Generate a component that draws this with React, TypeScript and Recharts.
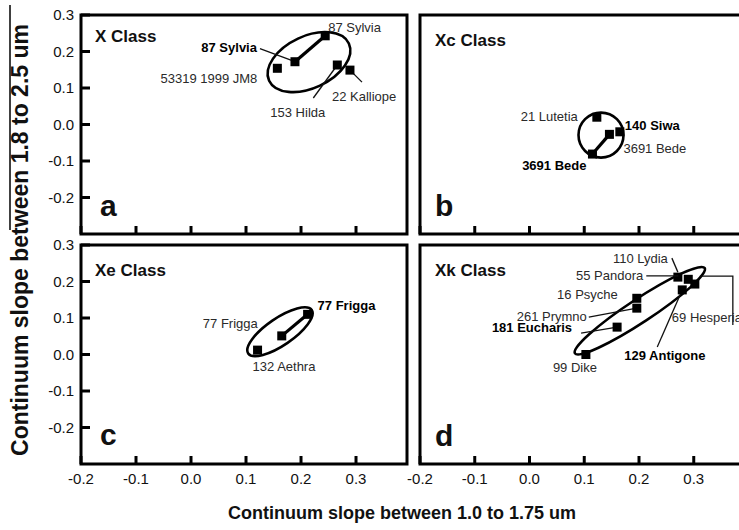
import React from "react";
import { ScatterChart, Scatter, XAxis, YAxis, ReferenceArea, ReferenceLine } from "recharts";

const FONT = "'Liberation Sans', Arial, Helvetica, sans-serif";

// Tick values shared by all four panels
const X_TICKS = [-0.2, -0.1, 0.0, 0.1, 0.2, 0.3];
const Y_TICKS = [-0.2, -0.1, 0.0, 0.1, 0.2, 0.3];

type Pt = { name: string; set: "new" | "ref"; x: number; y: number };

// x = continuum slope 1.0–1.75 um, y = continuum slope 1.8–2.5 um
const xClass: Pt[] = [
  { name: "53319 1999 JM8", set: "ref", x: 0.157, y: 0.154 },
  { name: "87 Sylvia", set: "new", x: 0.189, y: 0.172 },
  { name: "87 Sylvia", set: "ref", x: 0.244, y: 0.243 },
  { name: "153 Hilda", set: "ref", x: 0.266, y: 0.163 },
  { name: "22 Kalliope", set: "ref", x: 0.289, y: 0.149 },
];

const xcClass: Pt[] = [
  { name: "21 Lutetia", set: "ref", x: 0.123, y: 0.02 },
  { name: "140 Siwa", set: "new", x: 0.165, y: -0.02 },
  { name: "3691 Bede", set: "ref", x: 0.146, y: -0.027 },
  { name: "3691 Bede", set: "new", x: 0.115, y: -0.081 },
];

const xeClass: Pt[] = [
  { name: "132 Aethra", set: "ref", x: 0.121, y: 0.012 },
  { name: "77 Frigga", set: "ref", x: 0.165, y: 0.051 },
  { name: "77 Frigga", set: "new", x: 0.212, y: 0.11 },
];

const xkClass: Pt[] = [
  { name: "99 Dike", set: "ref", x: 0.103, y: 0.0 },
  { name: "181 Eucharis", set: "new", x: 0.16, y: 0.075 },
  { name: "261 Prymno", set: "ref", x: 0.196, y: 0.127 },
  { name: "16 Psyche", set: "ref", x: 0.196, y: 0.154 },
  { name: "129 Antigone", set: "new", x: 0.279, y: 0.177 },
  { name: "110 Lydia", set: "ref", x: 0.271, y: 0.212 },
  { name: "55 Pandora", set: "ref", x: 0.29, y: 0.206 },
  { name: "69 Hesperia", set: "ref", x: 0.302, y: 0.193 },
];

// cluster outlines: major axis end points (data units) and minor/major ratio
type Outline = { from: [number, number]; to: [number, number]; ratio: number };
const xOutline: Outline = { from: [0.142, 0.12], to: [0.287, 0.222], ratio: 0.59 };
const xcOutline: Outline = { from: [0.0895, -0.029], to: [0.1717, -0.029], ratio: 1 };
const xeOutline: Outline = { from: [0.104, 0.003], to: [0.2195, 0.122], ratio: 0.35 };
const xkOutline: Outline = { from: [0.083, 0.003], to: [0.32, 0.237], ratio: 0.15 };

// label placement in px relative to the marker, optional leader polyline
type Layout = { anchor: "start" | "end"; dx: number; dy: number; leader?: number[][] };
const LABEL_LAYOUT: Record<string, Layout> = {
  "53319 1999 JM8/ref": { anchor: "end", dx: -20, dy: 15 },
  "87 Sylvia/new": { anchor: "end", dx: -38, dy: -10, leader: [[-35, -13], [0, 0]] },
  "87 Sylvia/ref": { anchor: "start", dx: 3, dy: -4 },
  "153 Hilda/ref": { anchor: "start", dx: -67, dy: 52, leader: [[-24, 33], [0, 0]] },
  "22 Kalliope/ref": { anchor: "start", dx: -18, dy: 31, leader: [[0, 0], [12, 12]] },

  "21 Lutetia/ref": { anchor: "end", dx: -19, dy: 4 },
  "140 Siwa/new": { anchor: "start", dx: 5, dy: -2 },
  "3691 Bede/ref": { anchor: "start", dx: 14, dy: 19 },
  "3691 Bede/new": { anchor: "end", dx: -6, dy: 16 },

  "77 Frigga/ref": { anchor: "end", dx: -24, dy: -8 },
  "77 Frigga/new": { anchor: "start", dx: 10, dy: -4 },
  "132 Aethra/ref": { anchor: "start", dx: -5, dy: 21 },

  "110 Lydia/ref": { anchor: "end", dx: -10, dy: -14, leader: [[-6, -19], [0, -5]] },
  "55 Pandora/ref": { anchor: "end", dx: -45, dy: 1, leader: [[-42, -3.5], [-10, -3.5]] },
  "16 Psyche/ref": { anchor: "end", dx: -19, dy: 1 },
  "261 Prymno/ref": { anchor: "end", dx: -50, dy: 13, leader: [[-48, 9], [0, 0]] },
  "181 Eucharis/new": { anchor: "end", dx: -45, dy: 5, leader: [[-36, 6], [0, 0]] },
  "99 Dike/ref": { anchor: "start", dx: -33, dy: 17 },
  "129 Antigone/new": { anchor: "start", dx: -58, dy: 70, leader: [[-25, 57], [0, 0]] },
  "69 Hesperia/ref": { anchor: "start", dx: -23, dy: 38, leader: [[5, -8], [38, -8], [38, 41]] },
};

function PointMark(props: any) {
  const { cx, cy, payload } = props;
  const lay = LABEL_LAYOUT[`${payload.name}/${payload.set}`];
  const bold = payload.set === "new";
  return (
    <g>
      {lay?.leader && (
        <polyline
          points={lay.leader.map(([dx, dy]) => `${cx + dx},${cy + dy}`).join(" ")}
          fill="none"
          stroke="#111"
          strokeWidth={1.3}
        />
      )}
      <rect x={cx - 4.5} y={cy - 4.5} width={9} height={9} fill="#000" />
      {lay && (
        <text
          x={cx + lay.dx}
          y={cy + lay.dy}
          textAnchor={lay.anchor}
          fontFamily={FONT}
          fontSize={13}
          fontWeight={bold ? "bold" : "normal"}
          fill={bold ? "#000" : "#2a2a2a"}
        >
          {payload.name}
        </text>
      )}
    </g>
  );
}

function OutlineShape(props: any) {
  const { x1, y1, x2, y2, ratio } = props;
  const cx = (x1 + x2) / 2;
  const cy = (y1 + y2) / 2;
  const rx = Math.hypot(x2 - x1, y2 - y1) / 2;
  const ang = (Math.atan2(y2 - y1, x2 - x1) * 180) / Math.PI;
  return (
    <ellipse
      cx={cx}
      cy={cy}
      rx={rx}
      ry={rx * ratio}
      transform={`rotate(${ang} ${cx} ${cy})`}
      fill="none"
      stroke="#000"
      strokeWidth={2.6}
    />
  );
}

// asteroids measured twice in one panel get a line between the two points
function pairsOf(points: Pt[]) {
  const out: Pt[][] = [];
  const seen: Record<string, Pt> = {};
  points.forEach((p) => {
    if (seen[p.name]) out.push([seen[p.name], p]);
    else seen[p.name] = p;
  });
  return out;
}

interface PanelProps {
  points: Pt[];
  outline: Outline;
  left: number;
  top: number;
  width: number;
  height: number;
  margin: { top: number; right: number; bottom: number; left: number };
  xMax: number;
  xLabels: boolean;
  yLabels: boolean;
}

function Panel({ points, outline, left, top, width, height, margin, xMax, xLabels, yLabels }: PanelProps) {
  const tickStyle = { fontSize: 15, fill: "#111", fontFamily: FONT };
  return (
    <div style={{ position: "absolute", left, top }}>
      <ScatterChart width={width} height={height} margin={margin}>
        <XAxis
          type="number"
          dataKey="x"
          domain={[-0.2, xMax]}
          allowDataOverflow
          ticks={X_TICKS}
          interval={0}
          height={xLabels ? 30 : 2}
          axisLine={false}
          tickSize={-8}
          tickMargin={17}
          tickLine={{ stroke: "#000", strokeWidth: 3 }}
          tick={tickStyle}
          tickFormatter={(v: number) => (xLabels ? v.toFixed(1) : "")}
        />
        <YAxis
          type="number"
          dataKey="y"
          domain={[-0.3, 0.3]}
          allowDataOverflow
          ticks={Y_TICKS}
          interval={0}
          hide={!yLabels}
          width={81}
          axisLine={false}
          tickSize={-9}
          tickMargin={16}
          tickLine={{ stroke: "#000", strokeWidth: 3 }}
          tick={tickStyle}
          tickFormatter={(v: number) => v.toFixed(1)}
        />
        <ReferenceArea
          x1={-0.2}
          x2={xMax}
          y1={-0.3}
          y2={0.3}
          ifOverflow="visible"
          fill="none"
          stroke="#000"
          strokeWidth={3}
        />
        <ReferenceLine
          segment={[
            { x: outline.from[0], y: outline.from[1] },
            { x: outline.to[0], y: outline.to[1] },
          ]}
          ifOverflow="visible"
          shape={(p: any) => <OutlineShape {...p} ratio={outline.ratio} />}
        />
        {pairsOf(points).map(([a, b]) => (
          <ReferenceLine
            key={a.name}
            segment={[
              { x: a.x, y: a.y },
              { x: b.x, y: b.y },
            ]}
            ifOverflow="visible"
            stroke="#000"
            strokeWidth={3.2}
          />
        ))}
        <Scatter data={points} isAnimationActive={false} shape={(p: any) => <PointMark {...p} />} />
      </ScatterChart>
    </div>
  );
}

export default function App() {
  const leftMargin = { top: 15, right: 13, bottom: 0, left: 0 };
  const rightMargin = { top: 15, right: 21.5, bottom: 0, left: 25 };
  const titleStyle = { fontFamily: FONT, fontWeight: "bold" as const, fill: "#111" };
  return (
    <div
      style={{
        position: "absolute",
        left: 0,
        top: 0,
        width: 739,
        height: 530,
        overflow: "hidden",
        background: "#fff",
      }}
    >
      <Panel points={xClass} outline={xOutline} left={0} top={0} width={420} height={236} margin={leftMargin} xMax={0.3927} xLabels={false} yLabels />
      <Panel points={xcClass} outline={xcOutline} left={395} top={0} width={375} height={236} margin={rightMargin} xMax={0.4} xLabels={false} yLabels={false} />
      <Panel points={xeClass} outline={xeOutline} left={0} top={230} width={420} height={264} margin={leftMargin} xMax={0.3927} xLabels yLabels />
      <Panel points={xkClass} outline={xkOutline} left={395} top={230} width={375} height={264} margin={rightMargin} xMax={0.4} xLabels yLabels={false} />

      <svg width={739} height={530} style={{ position: "absolute", left: 0, top: 0, pointerEvents: "none" }}>
        <text x={95} y={42} fontSize={17} {...titleStyle}>X Class</text>
        <text x={435} y={46} fontSize={17} {...titleStyle}>Xc Class</text>
        <text x={95} y={276} fontSize={17} {...titleStyle}>Xe Class</text>
        <text x={435} y={276} fontSize={17} {...titleStyle}>Xk Class</text>

        <text x={100} y={216} fontSize={30} {...titleStyle}>a</text>
        <text x={435} y={216} fontSize={30} {...titleStyle}>b</text>
        <text x={100} y={445} fontSize={30} {...titleStyle}>c</text>
        <text x={435} y={446} fontSize={30} {...titleStyle}>d</text>

        <text x={402} y={519} textAnchor="middle" fontSize={18} {...titleStyle}>
          Continuum slope between 1.0 to 1.75 um
        </text>
        <text
          x={0}
          y={0}
          textAnchor="middle"
          fontSize={23}
          transform="translate(28 240) rotate(-90)"
          {...titleStyle}
        >
          Continuum slope between 1.8 to 2.5 um
        </text>
        <line x1={10} y1={5} x2={10} y2={230} stroke="#000" strokeWidth={1.5} />
      </svg>
    </div>
  );
}
